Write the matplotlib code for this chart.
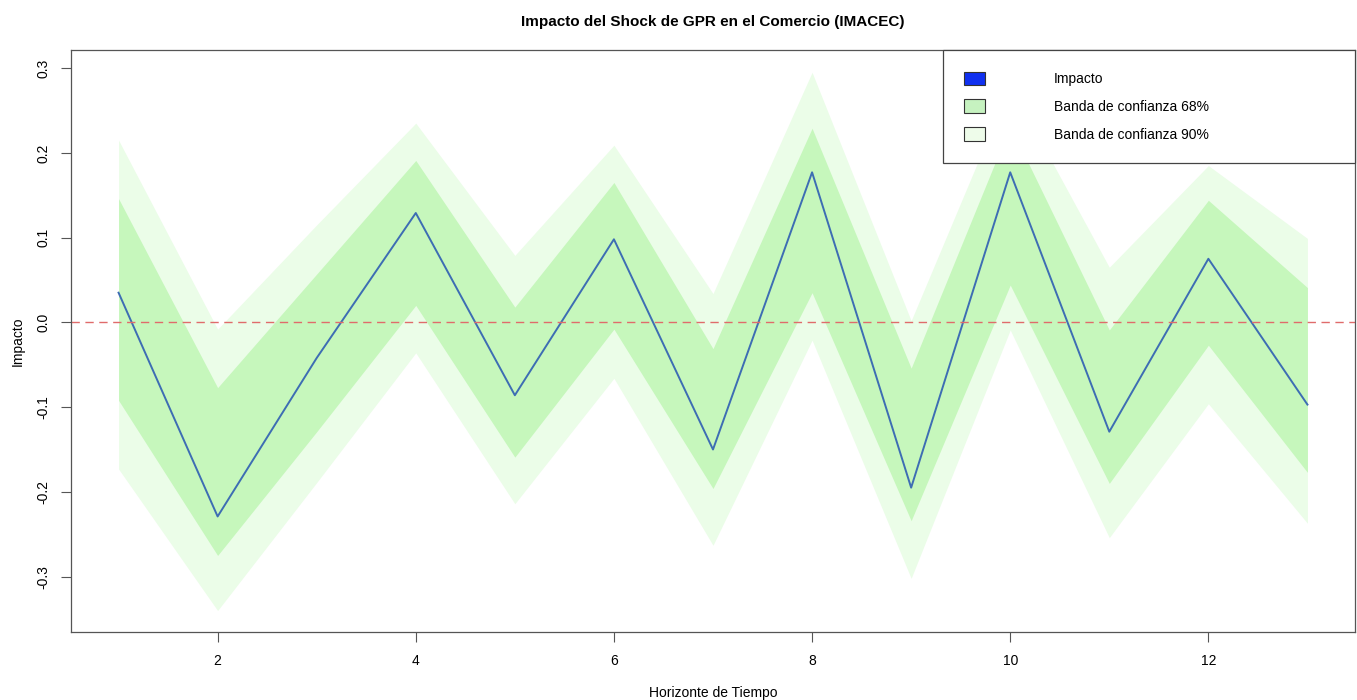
import numpy as np
import matplotlib.pyplot as plt
from matplotlib.patches import Patch

plt.rcParams['font.family'] = ['Liberation Sans', 'DejaVu Sans']

# horizonte y respuesta al impulso
horizonte = np.arange(1, 14)
impacto = [0.035, -0.229, -0.042, 0.129, -0.086, 0.098, -0.150, 0.177, -0.195, 0.177, -0.129, 0.075, -0.097]

# bandas de confianza
sup_68 = [0.146, -0.077, 0.057, 0.191, 0.018, 0.165, -0.031, 0.229, -0.054, 0.232, -0.009, 0.144, 0.041]
inf_68 = [-0.092, -0.275, -0.129, 0.020, -0.159, -0.008, -0.196, 0.035, -0.234, 0.044, -0.190, -0.027, -0.177]
sup_90 = [0.215, -0.008, 0.115, 0.235, 0.079, 0.209, 0.034, 0.295, 0.002, 0.280, 0.065, 0.185, 0.099]
inf_90 = [-0.173, -0.340, -0.189, -0.036, -0.214, -0.066, -0.263, -0.021, -0.302, -0.009, -0.254, -0.096, -0.237]

col_68 = '#c6f7bc'
col_90 = '#ebfde8'

fig = plt.figure(figsize=(13.57, 7), dpi=100)
ax = fig.add_axes([71/1357, 68/700, 1284/1357, 582/700])

ax.fill_between(horizonte, inf_90, sup_90, color=col_90, linewidth=0)
ax.fill_between(horizonte, inf_68, sup_68, color=col_68, linewidth=0)
ax.plot(horizonte, impacto, color='#3d6db3', linewidth=1.4)
ax.axhline(0, color='#e06b6b', linestyle=(0, (6, 4)), linewidth=1.0)

ax.set_xlim(0.52, 13.48)
ax.set_ylim(-0.3653, 0.3213)
ax.set_xticks([2, 4, 6, 8, 10, 12])
ax.set_yticks([-0.3, -0.2, -0.1, 0.0, 0.1, 0.2, 0.3])
ax.set_yticklabels(['-0.3', '-0.2', '-0.1', '0.0', '0.1', '0.2', '0.3'], rotation=90, va='center')
ax.tick_params(labelsize=10, length=7, width=0.8, color='#555555')
ax.tick_params(axis='x', pad=9)
ax.tick_params(axis='y', pad=8)
for s in ax.spines.values():
    s.set_color('#555555')
    s.set_linewidth(0.9)

ax.set_xlabel('Horizonte de Tiempo', fontsize=10, labelpad=13)
ax.set_ylabel('Impacto', fontsize=10, labelpad=8)
ax.set_title('Impacto del Shock de GPR en el Comercio (IMACEC)', fontsize=11, fontweight='bold', pad=17)

handles = [Patch(facecolor='#1030f0', edgecolor='#333333', linewidth=0.8),
           Patch(facecolor='#c6f2c0', edgecolor='#333333', linewidth=0.8),
           Patch(facecolor='#eefcea', edgecolor='#333333', linewidth=0.8)]
labels = ['Impacto', 'Banda de confianza 68%', 'Banda de confianza 90%']
leg = ax.legend(handles, labels, loc='upper left', bbox_to_anchor=(0.679, 0.806, 0.321, 0.194),
                mode='expand', borderaxespad=0, fontsize=10, handlelength=1.45, handleheight=1.15,
                handletextpad=5.0, labelspacing=0.95, borderpad=1.55, fancybox=False, framealpha=1)
leg.get_frame().set_edgecolor('#444444')
leg.get_frame().set_linewidth(0.9)

plt.savefig('out.png', dpi=100)
